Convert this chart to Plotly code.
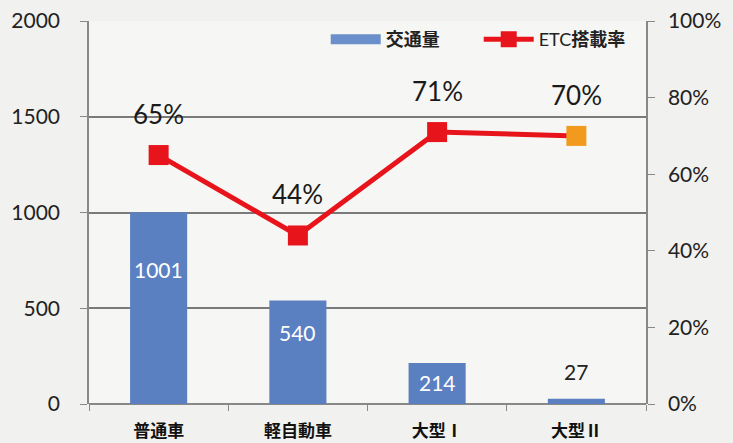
import plotly.graph_objects as go

categories = ["普通車", "軽自動車", "大型Ⅰ", "大型Ⅱ"]
traffic = [1001, 540, 214, 27]
etc_rate = [65, 44, 71, 70]
etc_labels = ["65%", "44%", "71%", "70%"]
bar_label_y = [700, 376, 110, 172]
bar_label_color = ["white", "white", "white", "#222222"]
marker_colors = ["#e8141c", "#e8141c", "#e8141c", "#f29a1e"]

FONT = "Lato, 'Noto Sans CJK JP', sans-serif"
BAR_COLOR = "#5b80c2"
RED = "#e8141c"

fig = go.Figure()
fig.add_trace(go.Bar(
    x=categories, y=traffic, name="交通量",
    marker=dict(color=BAR_COLOR, line=dict(width=0)),
    width=0.41, yaxis="y", showlegend=False,
))
# legend entry for the bars (wide rectangle like the original)
fig.add_trace(go.Scatter(
    x=[None], y=[None], name="<b>交通量</b>", mode="lines",
    line=dict(color="#6a8fca", width=10), showlegend=True,
))
fig.add_trace(go.Scatter(
    x=categories, y=etc_rate, name="ETC<b>搭載率</b>", yaxis="y2",
    mode="lines+markers",
    line=dict(color=RED, width=5),
    marker=dict(symbol="square", size=20, color=marker_colors, line=dict(width=0)),
))

for c, v, ly, col in zip(categories, traffic, bar_label_y, bar_label_color):
    fig.add_annotation(x=c, y=ly, xref="x", yref="y", text=str(v), showarrow=False,
                       font=dict(family=FONT, size=21, color=col))
for c, v, t in zip(categories, etc_rate, etc_labels):
    fig.add_annotation(x=c, y=v, xref="x", yref="y2", text=t, showarrow=False,
                       yshift=41, font=dict(family=FONT, size=26, color="#1a1a1a"))

fig.update_layout(
    width=733, height=443,
    margin=dict(l=89, r=87, t=21, b=39, autoexpand=False),
    paper_bgcolor="#f1f1ef",
    plot_bgcolor="#f6f6f4",
    font=dict(family=FONT, color="#222222"),
    showlegend=True,
    legend=dict(orientation="h", x=0.425, xanchor="left", y=1.0, yanchor="top",
                bgcolor="rgba(0,0,0,0)", font=dict(family=FONT, size=18, color="#222222"),
                itemwidth=50, entrywidth=88, traceorder="normal"),
    xaxis=dict(
        type="category", showgrid=False, showline=False, automargin=False,
        ticks="outside", tickson="boundaries", ticklen=6, tickcolor="#888888",
        tickfont=dict(family=FONT, size=17, color="#111111"),
        tickvals=categories, ticktext=["<b>" + c + "</b>" for c in categories],
        ticklabelstandoff=15,
        zeroline=False,
    ),
    yaxis=dict(
        range=[0, 2000], tickvals=[0, 500, 1000, 1500, 2000], automargin=False,
        showgrid=True, gridcolor="#7a7a7a", gridwidth=1.5,
        showline=True, linecolor="#888888", linewidth=1.5,
        ticks="outside", ticklen=7, tickcolor="#888888",
        tickfont=dict(family=FONT, size=21, color="#222222"),
        ticklabelstandoff=16,
        zeroline=True, zerolinecolor="#888888", zerolinewidth=1.5,
    ),
    yaxis2=dict(
        range=[0, 100], overlaying="y", side="right", automargin=False,
        tickvals=[0, 20, 40, 60, 80, 100], ticktext=["0%", "20%", "40%", "60%", "80%", "100%"],
        showgrid=False, showline=True, linecolor="#888888", linewidth=1.5,
        ticks="outside", ticklen=7, tickcolor="#888888",
        tickfont=dict(family=FONT, size=21, color="#222222"),
        ticklabelstandoff=9,
        zeroline=False,
    ),
)

fig.write_html(
    "out.html",
    config={"displayModeBar": False},
    post_script="document.body.style.margin='0';document.body.style.background='#f1f1ef';",
)
